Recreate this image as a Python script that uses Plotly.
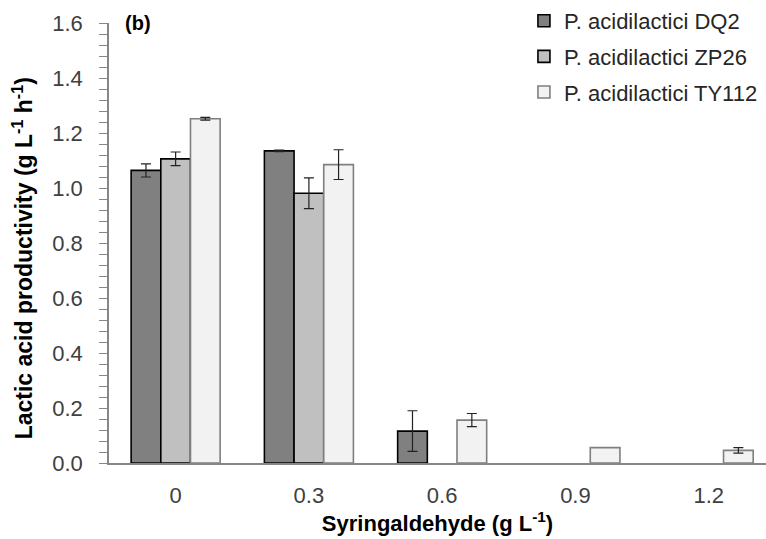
import plotly.graph_objects as go

# Syringaldehyde concentrations (g/L) on the category axis
concentrations = ["0", "0.3", "0.6", "0.9", "1.2"]

# Lactic acid productivity (g L^-1 h^-1), mean and standard deviation per strain
dq2_mean = [1.064, 1.135, 0.116, None, None]
dq2_sd = [0.024, 0.003, 0.074, None, None]

zp26_mean = [1.106, 0.981, None, None, None]
zp26_sd = [0.025, 0.056, None, None, None]

ty112_mean = [1.252, 1.085, 0.156, 0.056, 0.046]
ty112_sd = [0.005, 0.054, 0.024, None, 0.010]

strain_names = ["P. acidilactici DQ2", "P. acidilactici ZP26", "P. acidilactici TY112"]

FONT = "Liberation Sans, Arial, sans-serif"

series = [
    (strain_names[0], dq2_mean, dq2_sd, "#808080", "#000000"),
    (strain_names[1], zp26_mean, zp26_sd, "#c0c0c0", "#000000"),
    (strain_names[2], ty112_mean, ty112_sd, "#f2f2f2", "#7f7f7f"),
]

fig = go.Figure()
for i, (name, mean, sd, fill, edge) in enumerate(series):
    # points without a measured deviation get no error bar at all ("NaN" is skipped by plotly.js)
    err = [v if v is not None else "NaN" for v in sd]
    fig.add_trace(go.Bar(
        x=concentrations,
        y=mean,
        name=name,
        legendgroup=f"g{i}",
        marker=dict(color=fill, line=dict(color=edge, width=1.6)),
        error_y=dict(type="data", array=err, visible=True,
                     color="#222222", thickness=1.2, width=5),
    ))

fig.update_layout(
    width=766,
    height=539,
    margin=dict(l=109, r=0, t=23, b=76, autoexpand=False),
    plot_bgcolor="white",
    paper_bgcolor="white",
    barmode="group",
    bargap=0.332,
    bargroupgap=0,
    font=dict(family=FONT, color="#262626", size=22),
    showlegend=True,
    legend=dict(
        xref="container", yref="container",
        x=0.684, y=1.0, xanchor="left", yanchor="top",
        traceorder="grouped", tracegroupgap=4,
        font=dict(family=FONT, size=22, color="#262626"),
        bgcolor="rgba(0,0,0,0)",
    ),
    xaxis=dict(
        range=[-0.5, 4.43],
        showline=True, linecolor="#868686", linewidth=1.5,
        ticks="", showgrid=False, zeroline=False,
        tickfont=dict(size=22, color="#404040"),
        ticklabelstandoff=12,
        title=dict(text="<b>Syringaldehyde (g L<sup>-1</sup>)</b>",
                   font=dict(size=22, color="#000000"), standoff=8),
    ),
    yaxis=dict(
        range=[0, 1.6],
        dtick=0.2, tickformat=".1f",
        showline=True, linecolor="#868686", linewidth=1.5,
        ticks="outside", ticklen=8, tickcolor="#868686", tickwidth=1,
        minor=dict(dtick=0.04, ticks="outside", ticklen=8,
                   tickcolor="#868686", tickwidth=1, showgrid=False),
        showgrid=False, zeroline=False,
        tickfont=dict(size=22, color="#404040"),
        ticklabelstandoff=12,
    ),
    annotations=[
        dict(text="<b>(b)</b>", xref="paper", yref="paper",
             x=0.022, y=1.0, xanchor="left", yanchor="middle",
             showarrow=False, font=dict(family=FONT, size=20, color="#000000")),
        # y-axis title, placed a little below the plot's mid-height
        dict(text="<b>Lactic acid productivity (g L<sup>-1</sup> h<sup>-1</sup>)</b>",
             xref="paper", yref="paper", x=-0.131, y=0.465,
             xanchor="center", yanchor="middle", textangle=-90,
             showarrow=False, font=dict(family=FONT, size=23, color="#000000")),
    ],
)

fig.write_html("out.html")
